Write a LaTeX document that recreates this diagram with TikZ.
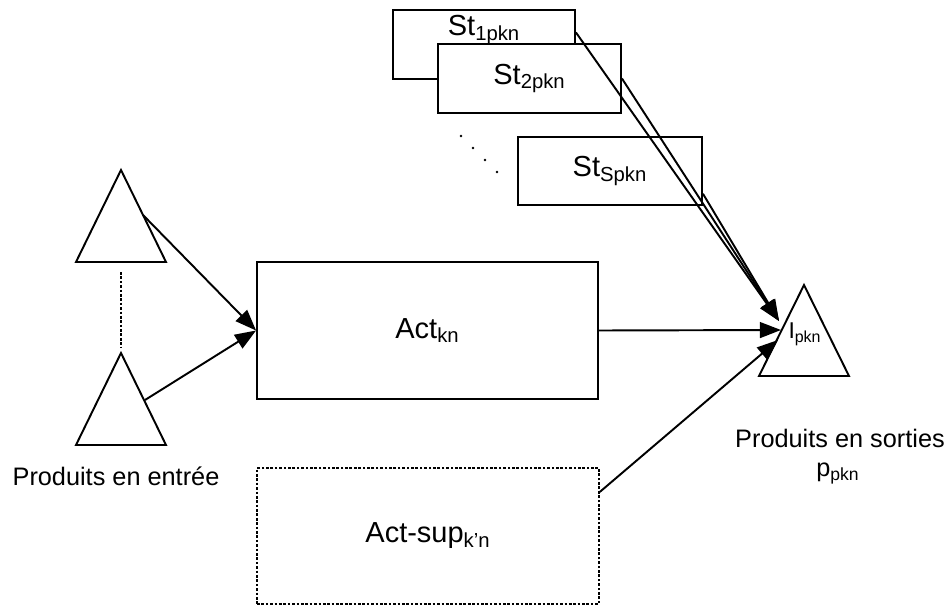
\documentclass[tikz,border=0pt]{standalone}
\usepackage{fontspec}
\setmainfont{Liberation Sans}
\usetikzlibrary{arrows, arrows.meta}
\usetikzlibrary{calc}
\usetikzlibrary{positioning}

\begin{document}
\begin{tikzpicture}[x=0.02cm, y=-0.02cm, line width=1.1pt,
  box/.style={draw, rectangle, inner sep=0pt, fill=white},
  big/.style={font=\fontsize{16.5}{19}\selectfont},
  small/.style={font=\fontsize{14.4}{17}\selectfont},
  arr/.style={-{Triangle[length=12pt, width=9pt]}}]
  \useasboundingbox (0,0) rectangle (947,605);

  % stocks
  \node[box, minimum width=3.64cm, minimum height=1.38cm] (st1) at (484,44.5) {};
  \node[big, inner sep=0pt, below=3pt of st1.north] (st1txt) {St\textsubscript{1pkn}};
  \node[box, big, minimum width=3.66cm, minimum height=1.38cm] (st2) at (529.5,78.5) {St\textsubscript{2pkn}};
  \node[box, big, minimum width=3.68cm, minimum height=1.36cm] (sts) at (610,171) {St\textsubscript{Spkn}};
  \foreach \i in {0,...,3}
    \fill (461+12*\i,136+12*\i) circle (0.8pt);

  % activites
  \node[box, big, minimum width=6.82cm, minimum height=2.74cm] (act) at (427.5,330.5) {Act\textsubscript{kn}};
  \node[box, big, line width=0.9pt, dash pattern=on 1.5pt off 1pt, minimum width=6.84cm, minimum height=2.72cm] (actsup) at (428,536) {Act-sup\textsubscript{k’n}};

  % produits en entree
  \draw (121,170) -- (166,262) -- (76,262) -- cycle;
  \draw (121,353) -- (166,445) -- (76,445) -- cycle;
  \coordinate (in1) at (143,215);
  \coordinate (in2) at (145,400);
  \coordinate (in1b) at (121,272);
  \coordinate (in2t) at (121,347);
  \draw[line width=0.8pt, dash pattern=on 1.5pt off 1pt] (in1b) -- (in2t);
  \node[small, anchor=base] (lblin) at (116,485) {Produits en entrée};

  % produit en sortie
  \draw (804,285) -- (849,376) -- (759,376) -- cycle;
  \node[anchor=base, font=\fontsize{13}{15}\selectfont] (ipkn) at (805,338) {I\textsubscript{pkn}};
  \coordinate (ist) at (779,321);
  \coordinate (iact) at (781,330);
  \coordinate (isup) at (778,340);
  \node[small, anchor=base] (lblout) at (840,447) {Produits en sorties};
  \node[small, anchor=base] (ppkn) at (838,476) {p\textsubscript{pkn}};

  \draw[arr] (in1) -- (act.west);
  \draw[arr] (in2) -- (act.west);
  \draw[arr] ($(st1.north east)!0.33!(st1.south east)$) -- (ist);
  \draw[arr] (st2.east) -- (ist);
  \draw[arr] ($(sts.east)!0.65!(sts.south east)$) -- (ist);
  \draw[arr] (act.east) -- (iact);
  \draw[arr] ($(actsup.north east)!0.18!(actsup.south east)$) -- (isup);
\end{tikzpicture}
\end{document}
